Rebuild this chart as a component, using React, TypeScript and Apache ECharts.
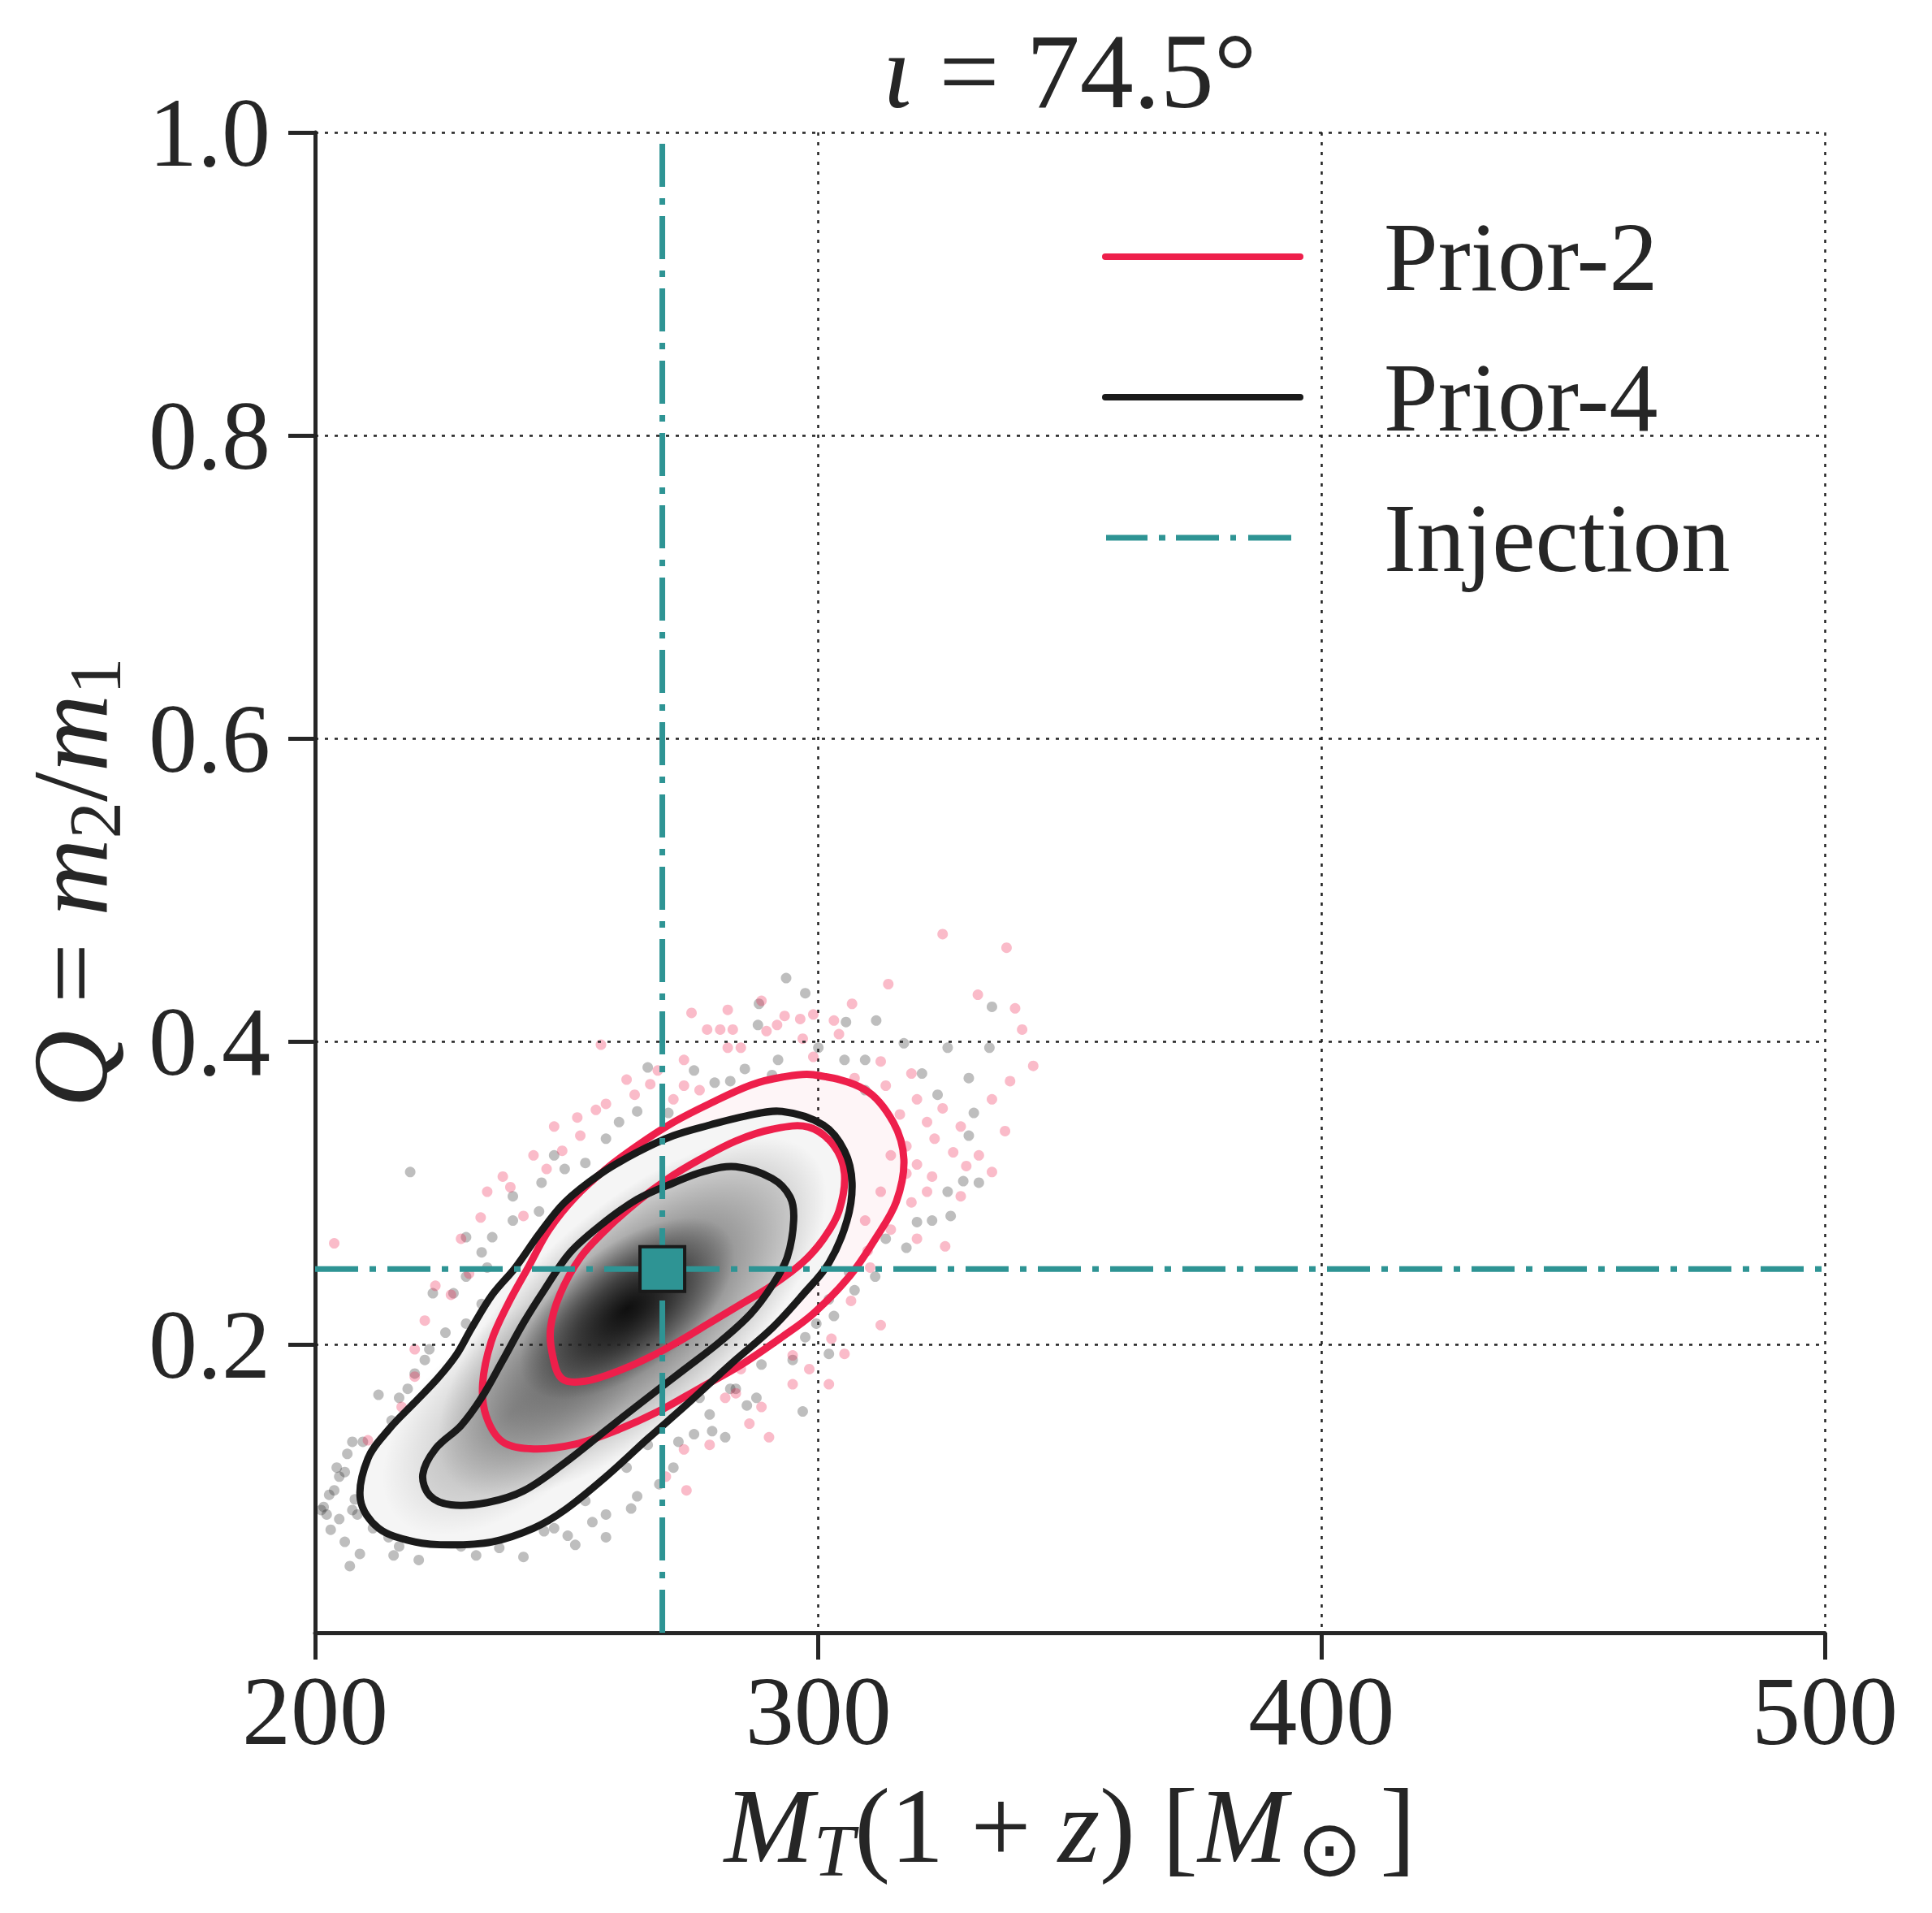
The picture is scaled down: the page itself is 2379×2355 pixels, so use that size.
import React, { useEffect, useRef } from 'react';
import * as echarts from 'echarts';

// ---------- data ----------
const X_RANGE = [200, 500];
const Y_RANGE = [0.01, 1.0];
const X_INTERVAL = 100;
const Y_TICKS = [0.2, 0.4, 0.6, 0.8, 1.0];
const TITLE_ANGLE = '74.5';
const INJECTION = [269, 0.25];

// Prior-4 (black) credible contours
const P4_OUTER = [
  [292.8, 0.354], [301.0, 0.345], [305.2, 0.328], [306.7, 0.307], [305.7, 0.282], [302.1, 0.254],
  [296.9, 0.233], [290.8, 0.211], [282.5, 0.187], [274.3, 0.162], [266.1, 0.138], [257.8, 0.113],
  [249.6, 0.091], [243.4, 0.079], [235.2, 0.070], [227.0, 0.068], [219.8, 0.070], [212.6, 0.079],
  [209.0, 0.098], [210.5, 0.125], [214.6, 0.144], [219.8, 0.162], [224.4, 0.178], [228.0, 0.193],
  [231.1, 0.211], [235.2, 0.233], [239.8, 0.251], [244.5, 0.273], [249.6, 0.294], [256.8, 0.313],
  [264.0, 0.327], [271.2, 0.338], [278.4, 0.345], [285.6, 0.351],
];
const P4_INNER = [
  [283.6, 0.3175], [290.8, 0.3098], [294.4, 0.2975], [295.1, 0.2821], [293.8, 0.2575], [290.8, 0.2391],
  [286.6, 0.2206], [280.5, 0.2021], [273.3, 0.1836], [266.1, 0.1652], [257.8, 0.1436], [249.6, 0.1221],
  [241.4, 0.1036], [234.2, 0.0959], [227.0, 0.0944], [222.8, 0.1005], [221.4, 0.1144], [223.9, 0.1313],
  [229.0, 0.1467], [233.1, 0.1652], [237.3, 0.1898], [241.4, 0.2144], [245.5, 0.2360], [250.6, 0.2606],
  [256.8, 0.2791], [264.0, 0.2960], [271.2, 0.3068], [277.4, 0.3145],
];
// Prior-2 (red) credible contours
const P2_OUTER = [
  [299.0, 0.3782], [309.3, 0.3683], [314.9, 0.3468], [317.0, 0.3222], [315.5, 0.2945], [311.3, 0.2698],
  [306.2, 0.2452], [299.0, 0.2206], [292.8, 0.2052], [284.6, 0.1867], [276.4, 0.1713], [268.1, 0.1559],
  [259.9, 0.1436], [251.7, 0.1344], [243.4, 0.1313], [237.3, 0.1359], [234.0, 0.1529], [233.3, 0.1744],
  [235.0, 0.2021], [238.3, 0.2267], [242.4, 0.2514], [246.5, 0.2760], [251.7, 0.2975], [257.8, 0.3160],
  [264.0, 0.3314], [271.2, 0.3468], [278.4, 0.3591], [286.6, 0.3714], [292.8, 0.3766],
];
const P2_INNER = [
  [298.0, 0.3437], [303.1, 0.3314], [305.2, 0.3129], [304.1, 0.2883], [301.0, 0.2698], [296.9, 0.2544],
  [290.8, 0.2391], [284.6, 0.2267], [278.4, 0.2144], [272.2, 0.2021], [267.1, 0.1929], [260.9, 0.1836],
  [253.7, 0.1760], [249.1, 0.1775], [247.2, 0.1929], [246.8, 0.2113], [248.6, 0.2329], [252.7, 0.2575],
  [257.8, 0.2760], [264.0, 0.2944], [270.2, 0.3098], [276.4, 0.3222], [283.6, 0.3345], [290.8, 0.3422],
];

// gray density image, described as soft elongated blobs
const BLOB_CENTERS = [[263, 0.218], [239, 0.155], [262, 0.224]];
const BLOB_AXIS_ENDS = [[299, 0.325], [262, 0.224], [282, 0.274]];
const BLOB_WIDTH_RATIOS = [0.44, 0.55, 0.5];
const BLOB_ALPHAS = [0.62, 0.25, 0.85];

// posterior samples outside the contours
const GRAY_SAMPLES = [
  [293.6, 0.442], [288.2, 0.425], [297.4, 0.432], [288.0, 0.411], [305.5, 0.413], [311.5, 0.414],
  [292.0, 0.388], [285.4, 0.382], [275.3, 0.381], [266.1, 0.383], [279.4, 0.373], [305.2, 0.388],
  [300.0, 0.396], [309.3, 0.388], [317.0, 0.399], [320.6, 0.379], [325.7, 0.396], [334.0, 0.396],
  [334.5, 0.423], [329.9, 0.376], [330.9, 0.353], [329.9, 0.338], [328.8, 0.308], [319.6, 0.281],
  [313.4, 0.270], [311.3, 0.245], [302.1, 0.230], [303.1, 0.219], [297.4, 0.205], [296.9, 0.156],
  [302.1, 0.194], [288.7, 0.187], [282.5, 0.171], [278.4, 0.154], [275.3, 0.141], [272.2, 0.136],
  [266.1, 0.134], [261.9, 0.119], [257.8, 0.088], [253.7, 0.097], [251.7, 0.068], [247.5, 0.079],
  [245.5, 0.077], [243.4, 0.084], [236.6, 0.066], [229.0, 0.067], [224.9, 0.070], [215.6, 0.061],
  [206.9, 0.054], [205.9, 0.070], [202.3, 0.088], [201.7, 0.093], [202.8, 0.101], [204.8, 0.113],
  [206.4, 0.128], [207.4, 0.136], [209.5, 0.136], [212.6, 0.167], [216.7, 0.165], [219.8, 0.181],
  [221.8, 0.190], [225.9, 0.208], [230.0, 0.214], [233.1, 0.227], [233.1, 0.261], [230.0, 0.271],
  [235.2, 0.271], [239.3, 0.282], [244.5, 0.288], [245.0, 0.307], [249.6, 0.316], [253.7, 0.320],
  [257.8, 0.336], [264.0, 0.354], [260.4, 0.347], [218.9, 0.314], [223.4, 0.234], [227.5, 0.234],
  [276.4, 0.165], [281.5, 0.139], [283.6, 0.171], [204.3, 0.119], [207.9, 0.098], [210.5, 0.088],
  [207.4, 0.091], [204.8, 0.085], [209.5, 0.110], [211.5, 0.104], [201.2, 0.091], [203.8, 0.104],
  [205.9, 0.116], [208.4, 0.088], [211.5, 0.079], [214.6, 0.073], [216.7, 0.067], [325.7, 0.301],
  [322.6, 0.282], [317.5, 0.264], [307.2, 0.236], [294.9, 0.190], [287.7, 0.165], [271.2, 0.119],
  [264.0, 0.100], [257.8, 0.073], [241.4, 0.060], [234.2, 0.251], [230.0, 0.245], [239.3, 0.298],
  [247.5, 0.325], [270.2, 0.353], [282.5, 0.374], [290.8, 0.378], [309.3, 0.368], [323.7, 0.365],
  [331.9, 0.307], [326.3, 0.285], [203.1, 0.078], [208.9, 0.062], [220.6, 0.058], [232.0, 0.061],
  [250.2, 0.074], [255.1, 0.083], [262.8, 0.092], [268.4, 0.108], [278.9, 0.143], [285.8, 0.160],
  [299.6, 0.214], [306.1, 0.248], [215.2, 0.150], [218.4, 0.171], [222.7, 0.197],
];
const PINK_SAMPLES = [
  [324.7, 0.471], [337.4, 0.462], [331.7, 0.431], [339.1, 0.422], [340.5, 0.408], [342.7, 0.384],
  [334.5, 0.362], [337.1, 0.341], [334.5, 0.314], [328.3, 0.298], [325.2, 0.265], [319.6, 0.270],
  [314.4, 0.276], [310.3, 0.251], [312.4, 0.213], [305.2, 0.194], [302.6, 0.204], [313.9, 0.438],
  [306.7, 0.425], [303.1, 0.414], [293.3, 0.417], [296.4, 0.415], [291.8, 0.411], [283.0, 0.408],
  [280.5, 0.408], [277.9, 0.408], [274.8, 0.419], [273.3, 0.388], [271.2, 0.362], [263.5, 0.365],
  [261.9, 0.375], [256.8, 0.398], [255.8, 0.355], [252.7, 0.338], [249.1, 0.328], [246.0, 0.316],
  [241.4, 0.285], [237.3, 0.311], [238.8, 0.304], [232.9, 0.284], [230.6, 0.247], [227.0, 0.233],
  [221.8, 0.216], [219.8, 0.197], [219.8, 0.179], [217.2, 0.159], [210.5, 0.137], [203.8, 0.267],
  [290.2, 0.139], [294.9, 0.193], [284.6, 0.184], [283.6, 0.168], [281.5, 0.165], [273.3, 0.131],
  [273.8, 0.104], [269.7, 0.113], [322.6, 0.311], [326.8, 0.327], [321.6, 0.347], [318.5, 0.379],
  [313.4, 0.371], [307.2, 0.376], [299.0, 0.390], [296.9, 0.402], [289.7, 0.407], [284.6, 0.396],
  [282.0, 0.396], [276.4, 0.368], [273.3, 0.371], [319.6, 0.319], [318.5, 0.294], [321.6, 0.301],
  [317.5, 0.331], [314.4, 0.325], [312.4, 0.301], [317.5, 0.313], [309.3, 0.282], [324.7, 0.356],
  [328.3, 0.344], [319.6, 0.362], [312.4, 0.387], [304.1, 0.405], [299.0, 0.418], [288.7, 0.427],
  [282.0, 0.421], [268.1, 0.381], [257.8, 0.359], [247.5, 0.344], [243.4, 0.325], [234.2, 0.301],
  [229.0, 0.270], [223.9, 0.239], [302.1, 0.174], [294.9, 0.174], [288.7, 0.159], [278.4, 0.134],
  [331.9, 0.325], [338.1, 0.374], [316.2, 0.352], [323.1, 0.336], [329.4, 0.318], [309.8, 0.262],
  [306.5, 0.229], [298.2, 0.184], [286.3, 0.148], [266.6, 0.372], [252.1, 0.350],
];

// ---------- styling ----------
const FONT = 'Liberation Serif';
const TEXT = '#262626';
const RED = '#ee1f4b';
const BLACK = '#1a1a1a';
const TEAL = '#2e9494';
const GRID_LINE = { type: [4, 8], width: 2.5, color: '#222222' };
const DASHDOT = [53, 14, 8, 14];
const LINE_ICON = 'path://M4,0H244A4,4,0,0,1,244,8H4A4,4,0,0,1,4,0Z';
const DASHDOT_ICON =
  'path://M0,0L0,0M5,0.5h51v7h-51z M70,0.5h8v7h-8z M91,0.5h53v7h-53z M158,0.5h7v7h-7z M180,0.5h53v7h-53z M248,8L248,8';
const SUB_LINE_HEIGHT = 153;

function polygonSeries(name: string, pts: number[][], z: number, style: any) {
  return {
    type: 'custom',
    name,
    z,
    silent: true,
    clip: true,
    data: [pts[0]],
    renderItem: (_params: any, api: any) => ({
      type: 'polygon',
      shape: { points: pts.map((p) => api.coord(p)), smooth: 0.35 },
      style,
    }),
  };
}

function blobSeries() {
  return {
    type: 'custom',
    name: 'density',
    z: 3,
    silent: true,
    clip: true,
    data: BLOB_CENTERS,
    renderItem: (params: any, api: any) => {
      const i = params.dataIndex;
      const c = api.coord(BLOB_CENTERS[i]);
      const e = api.coord(BLOB_AXIS_ENDS[i]);
      const dx = e[0] - c[0];
      const dy = e[1] - c[1];
      const a = Math.max(1, Math.hypot(dx, dy));
      const b = a * BLOB_WIDTH_RATIOS[i];
      const al = BLOB_ALPHAS[i];
      return {
        type: 'ellipse',
        x: c[0],
        y: c[1],
        rotation: Math.atan2(-dy, dx),
        shape: { cx: 0, cy: 0, rx: a, ry: b },
        style: {
          fill: new echarts.graphic.RadialGradient(0.5, 0.5, 0.5, [
            { offset: 0, color: `rgba(0,0,0,${al})` },
            { offset: 0.45, color: `rgba(0,0,0,${al * 0.6})` },
            { offset: 1, color: 'rgba(0,0,0,0)' },
          ], false),
          stroke: null,
        },
      };
    },
  };
}

function contour(name: string, pts: number[][], color: string) {
  return polygonSeries(name, pts, 6, { fill: 'none', stroke: color, lineWidth: 9, lineJoin: 'round' });
}

export default function App() {
  const ref = useRef<HTMLDivElement>(null);
  useEffect(() => {
    if (!ref.current) return;
    const chart = echarts.init(ref.current, null, { renderer: 'svg' });
    const richBase = { fontFamily: FONT, color: TEXT };
    const option: any = {
      animation: false,
      backgroundColor: '#ffffff',
      title: {
        text: '{it|ι}{n| = ' + TITLE_ANGLE + '°}',
        left: 1317,
        top: 21,
        textAlign: 'center',
        padding: 0,
        textStyle: {
          fontFamily: FONT, fontSize: 132, lineHeight: 132, color: TEXT, fontWeight: 'normal',
          rich: {
            it: { ...richBase, fontSize: 132, lineHeight: 132, fontStyle: 'italic' },
            n: { ...richBase, fontSize: 132, lineHeight: 132 },
          },
        },
      },
      legend: {
        orient: 'vertical',
        left: 1357,
        top: 256,
        padding: 0,
        itemWidth: 248,
        itemHeight: 8,
        itemGap: 53,
        selectedMode: false,
        itemStyle: { opacity: 1 },
        data: [
          { name: 'Prior-2', icon: LINE_ICON },
          { name: 'Prior-4', icon: LINE_ICON },
          { name: 'Injection', icon: DASHDOT_ICON },
        ],
        textStyle: { fontFamily: FONT, fontSize: 120, lineHeight: 120, color: TEXT, padding: [0, 0, 0, 94] },
      },
      grid: { left: 388, right: 132, top: 163, bottom: 345, containLabel: false },
      xAxis: {
        type: 'value',
        min: X_RANGE[0],
        max: X_RANGE[1],
        interval: X_INTERVAL,
        name: '{it|M}{subi|T}{n|(1 + }{it|z}{n|) [}{it|M}{sun|⊙}{n|]}',
        nameLocation: 'middle',
        nameGap: 232,
        nameTextStyle: {
          fontFamily: FONT, fontSize: 132, lineHeight: 132, color: TEXT, verticalAlign: 'middle',
          rich: {
            it: { ...richBase, fontSize: 132, lineHeight: 132, fontStyle: 'italic' },
            n: { ...richBase, fontSize: 132, lineHeight: 132 },
            subi: { ...richBase, fontSize: 91, lineHeight: SUB_LINE_HEIGHT, fontStyle: 'italic', verticalAlign: 'bottom' },
            sun: { fontFamily: 'DejaVu Sans', color: TEXT, fontSize: 96, lineHeight: SUB_LINE_HEIGHT, verticalAlign: 'bottom', padding: [0, 22, 0, 12] },
          },
        },
        axisLine: { show: true, onZero: false, lineStyle: { color: TEXT, width: 5 } },
        axisTick: { show: true, length: 33, lineStyle: { color: TEXT, width: 5 } },
        axisLabel: { fontFamily: FONT, fontSize: 120, color: TEXT, margin: 96, verticalAlign: 'middle' },
        splitLine: { show: true, lineStyle: GRID_LINE },
      },
      yAxis: {
        type: 'value',
        min: Y_RANGE[0],
        max: Y_RANGE[1],
        name: '{it|Q}{n| = }{it|m}{subr|2}{n|/}{it|m}{subr|1}',
        nameLocation: 'middle',
        nameRotate: 90,
        nameGap: 302,
        nameTextStyle: {
          fontFamily: FONT, fontSize: 132, lineHeight: 132, color: TEXT, verticalAlign: 'middle',
          rich: {
            it: { ...richBase, fontSize: 132, lineHeight: 132, fontStyle: 'italic' },
            n: { ...richBase, fontSize: 132, lineHeight: 132 },
            subr: { ...richBase, fontSize: 91, lineHeight: SUB_LINE_HEIGHT, verticalAlign: 'bottom' },
          },
        },
        axisLine: { show: true, onZero: false, lineStyle: { color: TEXT, width: 5 } },
        axisTick: { show: true, length: 33, customValues: Y_TICKS, lineStyle: { color: TEXT, width: 5 } },
        axisLabel: {
          fontFamily: FONT, fontSize: 120, color: TEXT, margin: 55, customValues: Y_TICKS,
          formatter: (v: number) => v.toFixed(1),
        },
        splitLine: { show: false },
      },
      series: [
        {
          type: 'line', name: 'ygrid', data: [], z: 0, silent: true,
          markLine: {
            silent: true, symbol: ['none', 'none'], label: { show: false },
            lineStyle: GRID_LINE, animation: false,
            data: Y_TICKS.map((v) => ({ yAxis: v })),
          },
        },
        {
          type: 'scatter', name: 'samples-4', data: GRAY_SAMPLES, z: 1, silent: true, symbolSize: 13,
          itemStyle: { color: 'rgba(40,40,40,0.3)', opacity: 1 },
        },
        {
          type: 'scatter', name: 'samples-2', data: PINK_SAMPLES, z: 1, silent: true, symbolSize: 13,
          itemStyle: { color: 'rgba(238,31,75,0.3)', opacity: 1 },
        },
        polygonSeries('dens-2', P2_OUTER, 2, { fill: 'rgba(238,31,75,0.045)', stroke: null }),
        polygonSeries('dens-4a', P4_OUTER, 3, { fill: '#f5f5f5', stroke: null }),
        polygonSeries('dens-4b', P4_INNER, 3, { fill: '#e4e4e4', stroke: null }),
        blobSeries(),
        contour('c2-outer', P2_OUTER, RED),
        contour('c2-inner', P2_INNER, RED),
        contour('c4-outer', P4_OUTER, BLACK),
        contour('c4-inner', P4_INNER, BLACK),
        { type: 'scatter', name: 'Prior-2', data: [], itemStyle: { color: RED, opacity: 1 } },
        { type: 'scatter', name: 'Prior-4', data: [], itemStyle: { color: BLACK, opacity: 1 } },
        { type: 'scatter', name: 'Injection', data: [], itemStyle: { color: TEAL, opacity: 1 } },
        {
          type: 'line', name: 'injection-v', z: 7, silent: true, symbol: 'none',
          data: [[INJECTION[0], Y_RANGE[0]], [INJECTION[0], Y_RANGE[1]]],
          lineStyle: { color: TEAL, width: 7, type: DASHDOT },
        },
        {
          type: 'line', name: 'injection-h', z: 7, silent: true, symbol: 'none',
          data: [[X_RANGE[0], INJECTION[1]], [X_RANGE[1], INJECTION[1]]],
          lineStyle: { color: TEAL, width: 7, type: DASHDOT },
        },
        {
          type: 'scatter', name: 'injection-point', z: 8, silent: true,
          data: [INJECTION], symbol: 'rect', symbolSize: 55,
          itemStyle: { color: TEAL, borderColor: BLACK, borderWidth: 4, opacity: 1 },
        },
      ],
    };
    chart.setOption(option);
    return () => chart.dispose();
  }, []);
  return (
    <div
      ref={ref}
      style={{ position: 'absolute', left: 0, top: 0, width: 2379, height: 2355, background: '#fff' }}
    />
  );
}
